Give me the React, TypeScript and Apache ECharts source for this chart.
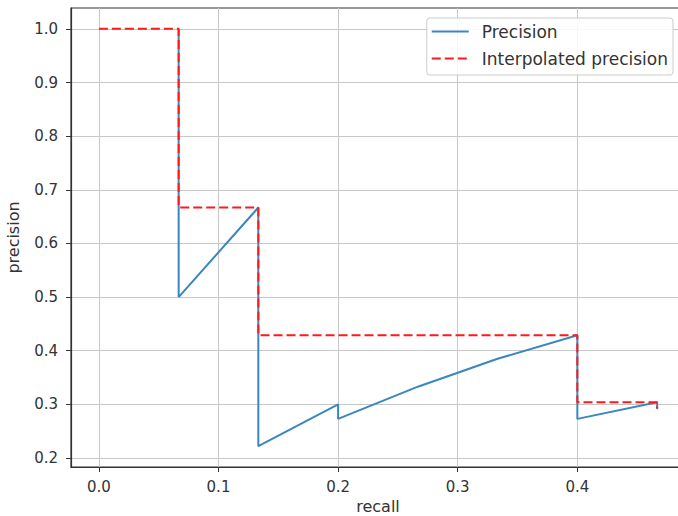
import React, { useEffect, useRef } from "react";
import * as echarts from "echarts";

// Precision at each ranked retrieval step (recall, precision)
const recall = [0.0667, 0.0667, 0.1333, 0.1333, 0.2, 0.2, 0.2667, 0.3333, 0.4, 0.4, 0.4667, 0.4667];
const precision = [1.0, 0.5, 0.667, 0.222, 0.3, 0.273, 0.333, 0.385, 0.429, 0.273, 0.304, 0.292];

// Interpolated (max-to-the-right) precision envelope
const interpRecall = [0, 0.0667, 0.0667, 0.1333, 0.1333, 0.4, 0.4, 0.4667, 0.4667];
const interpPrecision = [1.0, 1.0, 0.667, 0.667, 0.429, 0.429, 0.304, 0.304, 0.292];

const xTicks = [0.0, 0.1, 0.2, 0.3, 0.4];
const yTicks = [0.2, 0.3, 0.4, 0.5, 0.6, 0.7, 0.8, 0.9, 1.0];

const FONT = "DejaVu Sans";
const CHART_W = 700; // the plot runs past the visible right edge
const VIEW_W = 678;
const H = 516;

export default function App() {
  const ref = useRef<HTMLDivElement>(null);

  useEffect(() => {
    document.body.style.margin = "0";
    const chart = echarts.init(ref.current!, null, { renderer: "svg" });
    const pair = (xs: number[], ys: number[]) => xs.map((x, i) => [x, ys[i]]);

    chart.setOption({
      animation: false,
      backgroundColor: "#ffffff",
      grid: {
        left: 71,
        top: 8,
        width: 614,
        height: 459,
        outerBoundsMode: "none",
        containLabel: false,
        show: true,
        borderColor: "#333",
        borderWidth: 1.2,
        backgroundColor: "transparent",
      },
      xAxis: {
        type: "value",
        min: -0.0233,
        max: 0.49,
        name: "recall",
        nameLocation: "middle",
        nameGap: 30,
        nameTextStyle: { fontFamily: FONT, fontSize: 16, color: "#333" },
        axisLine: { show: true, onZero: false, lineStyle: { color: "#333", width: 1.2 } },
        axisTick: { show: true, length: 5, customValues: xTicks, lineStyle: { color: "#333" } },
        axisLabel: {
          customValues: xTicks,
          margin: 12,
          fontFamily: FONT,
          fontSize: 15,
          color: "#333",
          formatter: (v: number) => v.toFixed(1),
        },
        splitLine: { show: true, lineStyle: { color: "#c8c8c8", width: 1 } },
      },
      yAxis: {
        type: "value",
        min: 0.1833,
        max: 1.0389,
        name: "precision",
        nameLocation: "middle",
        nameGap: 50,
        nameTextStyle: { fontFamily: FONT, fontSize: 16, color: "#333" },
        axisLine: { show: true, onZero: false, lineStyle: { color: "#333", width: 1.2 } },
        axisTick: { show: true, length: 5, customValues: yTicks, lineStyle: { color: "#333" } },
        axisLabel: {
          customValues: yTicks,
          margin: 13,
          fontFamily: FONT,
          fontSize: 15,
          color: "#333",
          formatter: (v: number) => v.toFixed(1),
        },
        splitLine: { show: true, lineStyle: { color: "#c8c8c8", width: 1 } },
      },
      legend: {
        orient: "vertical",
        right: CHART_W - 673,
        top: 18,
        padding: [5, 5, 8, 4],
        itemGap: 10,
        itemWidth: 37,
        itemHeight: 14,
        itemStyle: { opacity: 0 },
        backgroundColor: "rgba(255,255,255,0.85)",
        borderColor: "#cccccc",
        borderWidth: 1,
        borderRadius: 3,
        textStyle: { fontFamily: FONT, fontSize: 17, color: "#333", padding: [0, 0, 0, 8] },
        data: ["Precision", "Interpolated precision"],
      },
      series: [
        {
          name: "Precision",
          type: "line",
          data: pair(recall, precision),
          symbol: "none",
          lineStyle: { color: "#3a87c0", width: 2 },
          itemStyle: { color: "#3a87c0" },
          z: 2,
        },
        {
          name: "Interpolated precision",
          type: "line",
          data: pair(interpRecall, interpPrecision),
          symbol: "none",
          lineStyle: { color: "#ff1a1a", width: 2, type: [9, 4] },
          itemStyle: { color: "#ff1a1a" },
          z: 3,
        },
      ],
    });

    return () => chart.dispose();
  }, []);

  return (
    <div style={{ position: "absolute", left: 0, top: 0, width: VIEW_W, height: H, overflow: "hidden" }}>
      <div ref={ref} style={{ width: CHART_W, height: H }} />
    </div>
  );
}
